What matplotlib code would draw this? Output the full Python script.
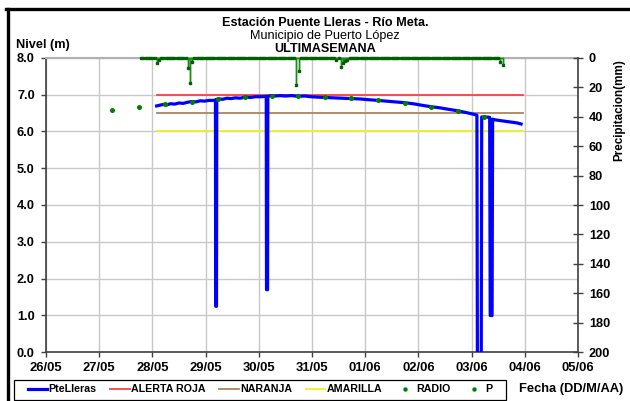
import matplotlib
matplotlib.use("Agg")
import matplotlib.pyplot as plt
from matplotlib.lines import Line2D
from matplotlib.patches import Rectangle
import numpy as np

plt.rcParams['font.family'] = ['Liberation Sans', 'DejaVu Sans']

# ---------------- data (x in days since 26/05 00:00) ----------------
date_labels = ["26/05", "27/05", "28/05", "29/05", "30/05", "31/05",
               "01/06", "02/06", "03/06", "04/06", "05/06"]

level_days = [2.08, 2.14, 2.20, 2.27, 2.34, 2.42, 2.50, 2.58, 2.66, 2.74, 2.82, 2.90,
              2.98, 3.06, 3.14, 3.185, 3.19, 3.205, 3.21, 3.26, 3.32, 3.40, 3.48, 3.56,
              3.65, 3.74, 3.84, 3.94, 4.04, 4.14, 4.145, 4.165, 4.17, 4.22, 4.30, 4.40,
              4.50, 4.62, 4.74, 4.86, 4.98, 5.10, 5.24, 5.40, 5.56, 5.74, 5.90, 6.06,
              6.24, 6.40, 6.56, 6.73, 6.90, 7.06, 7.23, 7.40, 7.56, 7.73, 7.90, 8.02,
              8.10, 8.11, 8.18, 8.19, 8.27, 8.34, 8.35, 8.385, 8.395, 8.45, 8.55, 8.65,
              8.75, 8.85, 8.93]
level_vals = [6.69, 6.71, 6.73, 6.72, 6.75, 6.74, 6.77, 6.76, 6.79, 6.81, 6.80, 6.83,
              6.82, 6.84, 6.84, 6.85, 1.25, 1.25, 6.87, 6.88, 6.87, 6.90, 6.89, 6.91,
              6.90, 6.93, 6.92, 6.94, 6.94, 6.95, 1.70, 1.70, 6.95, 6.97, 6.96, 6.97,
              6.96, 6.97, 6.95, 6.96, 6.94, 6.93, 6.92, 6.91, 6.90, 6.89, 6.88, 6.86,
              6.84, 6.82, 6.80, 6.78, 6.75, 6.71, 6.67, 6.64, 6.60, 6.56, 6.51, 6.47,
              6.44, -1.0, -1.0, 6.39, 6.39, 6.38, 1.00, 1.00, 6.33, 6.31, 6.29, 6.27,
              6.25, 6.23, 6.20]

radio_days = [1.24, 1.74, 2.24, 2.74, 3.24, 3.74, 4.24, 4.74, 5.24, 5.74, 6.24,
              6.74, 7.24, 7.74, 8.24]
radio_vals = [6.58, 6.66, 6.73, 6.81, 6.88, 6.93, 6.97, 6.95, 6.92, 6.90, 6.84,
              6.78, 6.67, 6.56, 6.38]

alert_span = [2.08, 8.97]
alert_roja = 7.0
alert_naranja = 6.5
alert_amarilla = 6.0

# precipitation: hourly record from p_start to p_end, zero except events
p_start = 1.79
p_end = 8.58
p_event_days = [2.08, 2.12, 2.66, 2.70, 2.74, 4.69, 4.74, 5.45, 5.53, 5.57,
                5.62, 5.68, 8.54, 8.58]
p_event_mm = [3.4, 1.5, 6.8, 17.4, 2.7, 18.5, 8.8, 1.5, 6.0, 3.8,
              2.0, 1.5, 3.0, 5.0]

# ---------------- build hourly precipitation table ----------------
n_hours = int(round((p_end - p_start) * 24)) + 1
p_days = p_start + np.arange(n_hours) / 24.0
p_vals = np.zeros(n_hours)
for d, mm in zip(p_event_days, p_event_mm):
    idx = int(round((d - p_start) * 24))
    idx = min(max(idx, 0), n_hours - 1)
    p_vals[idx] = mm
# draw spikes as vertical bars from the zero line
px, py = [], []
for d, v in zip(p_days, p_vals):
    if v > 0:
        px += [d, d, d]
        py += [0, v, 0]
    else:
        px.append(d)
        py.append(0)

# ---------------- figure ----------------
W, H = 630, 401
fig = plt.figure(figsize=(W / 100, H / 100), dpi=100)
fig.patch.set_facecolor('white')

L, R, T, B = 46, 578, 57.7, 352.3
ax = fig.add_axes([L / W, 1 - B / H, (R - L) / W, (B - T) / H])
ax2 = ax.twinx()

ax.set_xlim(0, 10)
ax.set_ylim(0, 8)
ax.set_xticks(range(len(date_labels)))
ax.set_xticklabels(date_labels, fontsize=9.4, fontweight='bold')
ax.set_yticks(np.arange(0, 8.01, 1.0))
ax.set_yticklabels([f"{v:.1f}" for v in np.arange(0, 8.01, 1.0)], fontsize=9.2, fontweight='bold')
ax.grid(True, color='#c8c8c8', linewidth=1.0)
ax.set_axisbelow(True)
ax.tick_params(axis='x', length=3.6, width=1, color='#404040', pad=3.5)
ax.tick_params(axis='y', length=3.6, width=1, color='#404040', pad=4.5)
for s in ['left', 'bottom']:
    ax.spines[s].set_color('#404040')
    ax.spines[s].set_linewidth(1.2)
ax.spines['top'].set_color('#b0b0b0')
ax.spines['top'].set_linewidth(1.5)
ax.spines['right'].set_visible(False)

# alert lines
ax.plot(alert_span, [alert_roja] * 2, color='#ff4040', lw=1.3, zorder=3)
ax.plot(alert_span, [alert_naranja] * 2, color='#a88560', lw=1.3, zorder=3)
ax.plot(alert_span, [alert_amarilla] * 2, color='#f0f020', lw=1.3, zorder=3)

# level
ax.plot(level_days, level_vals, color='#0000ff', lw=2.3, zorder=4, clip_on=True)
ax.plot(radio_days, radio_vals, 'o', color='#008000', ms=2.6, zorder=5)

# precipitation axis
ax2.set_ylim(200, 0)
ax2.set_yticks(range(0, 201, 20))
ax2.set_yticklabels([str(v) for v in range(0, 201, 20)], fontsize=9.2, fontweight='bold')
ax2.tick_params(axis='y', direction='inout', length=6.5, width=1, color='#404040', pad=4.5)
ax2.spines['right'].set_color('#404040')
ax2.spines['right'].set_linewidth(1.2)
for s in ['left', 'top', 'bottom']:
    ax2.spines[s].set_visible(False)
ax2.plot(px, py, color='#1a8a1a', lw=1.0, zorder=6, clip_on=False)
ax2.plot(p_days, p_vals, ls='none', marker='s', ms=1.6,
         mec='#006000', mfc='#006000', zorder=7, clip_on=False)

# texts
fig.text(325 / W, 1 - 23 / H, "Estación Puente Lleras - Río Meta.", ha='center', va='center',
         fontsize=9.1, fontweight='bold')
fig.text(325 / W, 1 - 36 / H, "Municipio de Puerto López", ha='center', va='center',
         fontsize=9.1)
fig.text(325 / W, 1 - 49 / H, "ULTIMASEMANA", ha='center', va='center',
         fontsize=9.1, fontweight='bold')
fig.text(16 / W, 1 - 45 / H, "Nivel (m)", ha='left', va='center', fontsize=9.2, fontweight='bold')
fig.text(619 / W, 1 - 110 / H, "Precipitacion(mm)", ha='center', va='center', rotation=90,
         fontsize=8.4, fontweight='bold')
fig.text(519 / W, 1 - 389 / H, "Fecha (DD/M/AA)", ha='left', va='center', fontsize=9.3,
         fontweight='bold')

# legend
handles = [
    Line2D([], [], color='#0000ff', lw=2.3),
    Line2D([], [], color='#ff4040', lw=1.3),
    Line2D([], [], color='#a88560', lw=1.3),
    Line2D([], [], color='#f0f020', lw=1.3),
    Line2D([], [], color='#008000', marker='o', ls='none', ms=2.2),
    Line2D([], [], color='#008000', marker='o', ls='none', ms=2.2),
]
labels = ["PteLleras", "ALERTA ROJA", "NARANJA", "AMARILLA", "RADIO", "P"]
leg = fig.legend(handles, labels, loc='center left', bbox_to_anchor=(28 / W, 1 - 389.5 / H),
                 ncol=6, frameon=False,
                 prop={'size': 7.7, 'weight': 'bold'}, handlelength=1.8, handletextpad=0.12,
                 columnspacing=1.3, borderpad=0, borderaxespad=0)
fig.add_artist(Rectangle((14 / W, 1 - 399.5 / H), (506 - 14) / W, 19.5 / H,
                         transform=fig.transFigure, fill=False, edgecolor='black', lw=0.9))

# outer border (left & top visible)
fig.add_artist(Line2D([7.5 / W, 7.5 / W], [0, 1 - 8.5 / H], color='black', lw=2.4,
                      transform=fig.transFigure))
fig.add_artist(Line2D([6.3 / W, 1], [1 - 8.5 / H, 1 - 8.5 / H], color='black', lw=2.4,
                      transform=fig.transFigure))

fig.savefig("out.png", dpi=100)
